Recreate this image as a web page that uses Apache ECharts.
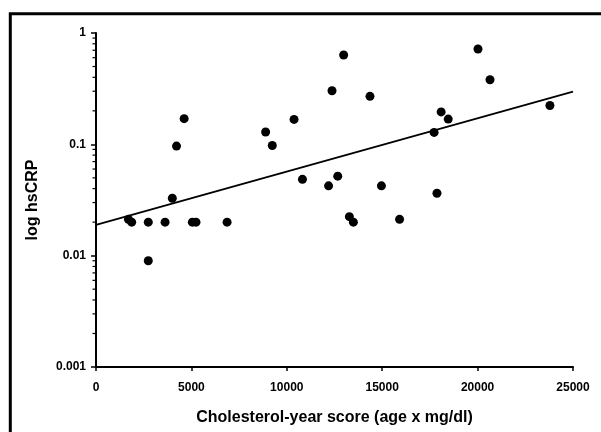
<!DOCTYPE html>
<html>
<head>
<meta charset="utf-8">
<script src="https://cdn.jsdelivr.net/npm/echarts@6/dist/echarts.min.js"></script>
<style>html,body{margin:0;padding:0;background:#fff;}#c{width:601px;height:432px;}</style>
</head>
<body>
<div id="c"></div>
<script>
// Cholesterol-year score (x) and hsCRP (y)
const xScores = [1700, 1870, 2740, 3620, 5050, 5240, 6870, 2740, 4000, 4220, 4620, 8890, 9240, 10380, 10820, 12370, 12190, 12670, 12980, 13280, 13490, 14360, 14960, 15910, 17720, 17870, 18090, 18460, 20020, 20650, 23790];
const hsCRP   = [0.0212, 0.020, 0.020, 0.020, 0.020, 0.020, 0.020, 0.009, 0.0328, 0.0964, 0.170, 0.129, 0.0977, 0.1675, 0.0485, 0.303, 0.0424, 0.0518, 0.634, 0.0224, 0.020, 0.270, 0.0424, 0.0212, 0.128, 0.0364, 0.1956, 0.1685, 0.718, 0.380, 0.223];
// Trend line end points
const trendX = [0, 25000];
const trendY = [0.0189, 0.297];
// Axis ticks
const xTicks = [0, 5000, 10000, 15000, 20000, 25000];
const yTickLabels = {"1": "1", "0.1": "0.1", "0.01": "0.01", "0.001": "0.001"};
const yMinorTicks = [0.002,0.003,0.004,0.005,0.006,0.007,0.008,0.009,0.02,0.03,0.04,0.05,0.06,0.07,0.08,0.09,0.2,0.3,0.4,0.5,0.6,0.7,0.8,0.9];

const FONT = '"Liberation Sans", Arial, sans-serif';
const chart = echarts.init(document.getElementById('c'), null, {renderer: 'canvas'});

const points = xScores.map((x, i) => [x, hsCRP[i]]);
const trend = trendX.map((x, i) => [x, trendY[i]]);

chart.setOption({
  animation: false,
  backgroundColor: '#fff',
  graphic: [{
    type: 'rect', z: 100, silent: true,
    shape: {x: 10.3, y: 13.7, width: 700, height: 600},
    style: {fill: 'none', stroke: '#000', lineWidth: 3}
  }],
  grid: {left: 96, right: 28, top: 33, bottom: 65, containLabel: false},
  xAxis: {
    type: 'value', min: xTicks[0], max: xTicks[xTicks.length - 1], interval: 5000,
    splitLine: {show: false},
    axisLine: {show: true, onZero: false, lineStyle: {color: '#000', width: 2}},
    axisTick: {show: true, length: 4, lineStyle: {color: '#000', width: 1.5}},
    axisLabel: {color: '#000', fontFamily: FONT, fontWeight: 'bold', fontSize: 12, margin: 15,
      formatter: function (v) { return String(Math.round(v)); }},
    name: 'Cholesterol-year score (age x mg/dl)',
    nameLocation: 'middle', nameGap: 43,
    nameTextStyle: {color: '#000', fontFamily: FONT, fontWeight: 'bold', fontSize: 16}
  },
  yAxis: {
    type: 'log', logBase: 10, min: 0.001, max: 1,
    splitLine: {show: false},
    axisLine: {show: true, onZero: false, lineStyle: {color: '#000', width: 2}},
    axisTick: {show: true, length: 5, lineStyle: {color: '#000', width: 1.5}},
    minorTick: {show: false},
    axisLabel: {
      color: '#000', fontFamily: FONT, fontWeight: 'bold', fontSize: 12, margin: 10,
      formatter: function (v) {
        const k = String(+v.toPrecision(3));
        return yTickLabels[k] !== undefined ? yTickLabels[k] : '';
      }
    },
    name: 'log hsCRP',
    nameLocation: 'middle', nameGap: 55, nameRotate: 90,
    nameTextStyle: {color: '#000', fontFamily: FONT, fontWeight: 'bold', fontSize: 16}
  },
  series: [
    {
      type: 'custom',
      silent: true,
      clip: false,
      data: yMinorTicks.map(v => [0, v]),
      renderItem: function (params, api) {
        const p = api.coord([api.value(0), api.value(1)]);
        return {
          type: 'line',
          shape: {x1: p[0] - 3.5, y1: p[1], x2: p[0], y2: p[1]},
          style: {stroke: '#000', lineWidth: 1.2}
        };
      }
    },
    {
      type: 'line',
      data: trend,
      symbol: 'none',
      lineStyle: {color: '#000', width: 1.8},
      z: 2
    },
    {
      type: 'scatter',
      data: points,
      symbol: 'circle',
      symbolSize: 9,
      itemStyle: {color: '#000', opacity: 1},
      z: 3
    }
  ]
});
</script>
</body>
</html>
